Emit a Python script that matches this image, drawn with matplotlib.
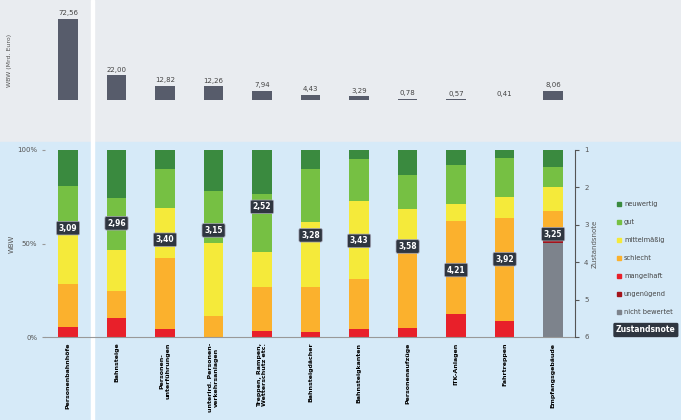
import matplotlib.pyplot as plt
import numpy as np
from matplotlib.patches import Rectangle

cats = ["Personenbahnhöfe", "Bahnsteige", "Personen-\nunterführungen", "unterird. Personen-\nverkehrsanlagen",
        "Treppen, Rampen,\nWetterschutz etc.", "Bahnsteigdächer", "Bahnsteigkanten", "Personenaufzüge",
        "ITK-Anlagen", "Fahrtreppen", "Empfangsgebäude"]
wbw = [72.56, 22.00, 12.82, 12.26, 7.94, 4.43, 3.29, 0.78, 0.57, 0.41, 8.06]
wbw_lbl = ["72,56", "22,00", "12,82", "12,26", "7,94", "4,43", "3,29", "0,78", "0,57", "0,41", "8,06"]
nicht_bewertet = [0, 0, 0, 0, 0, 0, 0, 0, 0, 0, 50.2]
ungenuegend = [0, 0, 0, 0, 0, 0, 0, 0, 0, 0, 0.9]
mangelhaft = [5.4, 10.2, 4.5, 0, 3.2, 2.7, 4.5, 5.0, 12.5, 8.8, 0]
schlecht = [22.9, 14.4, 37.6, 11.3, 23.7, 24.2, 26.7, 43.4, 49.3, 54.6, 16.5]
mittel = [26.4, 22.0, 26.9, 38.9, 18.4, 34.7, 41.7, 20.1, 9.3, 11.5, 12.7]
gut = [26.3, 27.6, 20.6, 28.1, 31.2, 28.4, 22.1, 17.9, 20.7, 20.6, 10.7]
neuwertig = [19.0, 25.8, 10.4, 21.7, 23.5, 10.0, 5.0, 13.6, 8.2, 4.5, 9.0]
note = [3.09, 2.96, 3.40, 3.15, 2.52, 3.28, 3.43, 3.58, 4.21, 3.92, 3.25]

series = [("nicht bewertet", nicht_bewertet, "#7d838c"), ("ungenügend", ungenuegend, "#a3141b"),
          ("mangelhaft", mangelhaft, "#e8202a"), ("schlecht", schlecht, "#fbb12d"),
          ("mittelmäßig", mittel, "#f5ea3a"), ("gut", gut, "#76c043"), ("neuwertig", neuwertig, "#3a8a3f")]

W, H = 681, 420
fig = plt.figure(figsize=(6.81, 4.20), dpi=100)
fig.patches.append(Rectangle((0, 1 - 142 / H), 1, 142 / H, transform=fig.transFigure, color="#e9ecf0", zorder=-10))
fig.patches.append(Rectangle((0, 0), 1, 1 - 142 / H, transform=fig.transFigure, color="#d6eaf8", zorder=-10))
fig.patches.append(Rectangle((91 / W, 0), 3 / W, 1, transform=fig.transFigure, color="white", zorder=-5))

x = np.arange(len(cats))
x0, x1 = -0.474, 10.45
axl, axr = 45 / W, 575 / W

# top panel
at = fig.add_axes([axl, 1 - 100 / H, axr - axl, 81 / H])
at.set_xlim(x0, x1); at.set_ylim(0, 72.56)
at.bar(x, wbw, width=0.4, color="#575c6b")
for xi, v, l in zip(x, wbw, wbw_lbl):
    at.text(xi, v + 2.5, l, ha="center", va="bottom", fontsize=5, color="#444")
at.axis("off")
fig.text(10 / W, 1 - 60 / H, "WBW (Mrd. Euro)", rotation=90, fontsize=4.5, color="#555", ha="center", va="center")

# bottom panel
ab = fig.add_axes([axl, 1 - 337 / H, axr - axl, 187 / H])
ab.set_facecolor("none")
ab.set_xlim(x0, x1); ab.set_ylim(0, 100)
bottom = np.zeros(len(cats))
for name, vals, c in series:
    ab.bar(x, vals, width=0.4, bottom=bottom, color=c, label=name)
    bottom += np.array(vals)
for s in ["top", "right"]:
    ab.spines[s].set_visible(False)
ab.spines["left"].set_visible(False)
ab.spines["bottom"].set_color("#999")
ab.set_yticks([0, 50, 100]); ab.set_yticklabels(["0%", "50%", "100%"], fontsize=5, color="#555")
ab.tick_params(axis="y", length=2, color="#999")
ab.set_xticks(x); ab.set_xticklabels(cats, rotation=90, fontsize=4.5, fontweight="bold", va="top", ha="center")
ab.tick_params(axis="x", length=0, pad=4)
ab.set_ylabel("WBW", fontsize=5, color="#555", labelpad=2)

ar = ab.twinx()
ar.set_ylim(6, 1)
ar.set_yticks([1, 2, 3, 4, 5, 6]); ar.set_yticklabels(["1", "2", "3", "4", "5", "6"], fontsize=5, color="#555")
ar.tick_params(axis="y", length=3, color="#555")
for s in ["top", "left", "bottom"]:
    ar.spines[s].set_visible(False)
ar.spines["right"].set_color("#555")
ar.set_ylabel("Zustandsnote", fontsize=5, color="#555", labelpad=2)
for xi, n in zip(x, note):
    ar.text(xi, n, f"{n:.2f}".replace(".", ","), ha="center", va="center", fontsize=5.5, color="white",
            fontweight="bold", bbox=dict(boxstyle="round,pad=0.3,rounding_size=0.2", fc="#2f3640", ec="#aab", lw=0.5))

# legend
order = ["neuwertig", "gut", "mittelmäßig", "schlecht", "mangelhaft", "ungenügend", "nicht bewertet"]
cmap = {n: c for n, _, c in series}
for i, n in enumerate(order):
    yy = 1 - (204 + i * 18) / H
    fig.patches.append(Rectangle((617 / W, yy - 2 / H), 4 / W, 4 / H, transform=fig.transFigure, color=cmap[n]))
    fig.text(624 / W, yy, n, fontsize=4.8, color="#444", va="center")
fig.text(616 / W, 1 - 330 / H, "Zustandsnote", fontsize=5.5, color="white", fontweight="bold", va="center",
         bbox=dict(boxstyle="round,pad=0.35,rounding_size=0.2", fc="#2f3640", ec="none"))

fig.savefig("out.png", dpi=100)
